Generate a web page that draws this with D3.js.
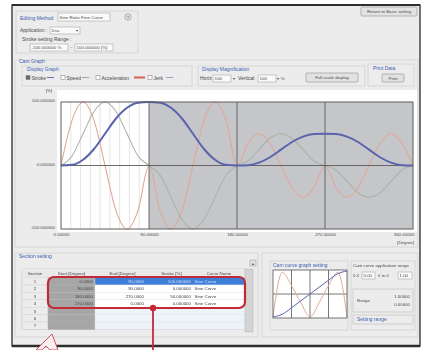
<!DOCTYPE html>
<html lang="en">
<head>
<meta charset="UTF-8">
<title>Cam curve editor</title>
<script src="https://d3js.org/d3.v7.min.js"></script>
<style>
  html, body { margin: 0; padding: 0; background: #fff; }
  svg { display: block; font-family: "Liberation Sans", Arial, sans-serif; filter: blur(0.3px); }
  .lbl { font-size: 5px; fill: #4a4a4a; }
  .sm { font-size: 4.4px; fill: #4a4a4a; }
  .grp { font-size: 5px; fill: #3a5cb0; }
</style>
</head>
<body>
<div id="chart"></div>
<script>
// cam cycle, sampled every 11.25 degrees
var degrees = [0, 11.25, 22.5, 33.75, 45, 56.25, 67.5, 78.75, 90,
  101.25, 112.5, 123.75, 135, 146.25, 157.5, 168.75, 180,
  191.25, 202.5, 213.75, 225, 236.25, 247.5, 258.75, 270,
  281.25, 292.5, 303.75, 315, 326.25, 337.5, 348.75, 360];
var stroke = [0, 1, 9, 26, 50, 74, 91, 99, 100,
  99, 91, 74, 50, 26, 9, 1, 0,
  0.5, 4.5, 13, 25, 37, 45.5, 49.5, 50,
  49.5, 45.5, 37, 25, 13, 4.5, 0.5, 0];
var speed = [0, 15, 50, 85, 100, 85, 50, 15, 0,
  -15, -50, -85, -100, -85, -50, -15, 0,
  7, 25, 43, 50, 43, 25, 7, 0,
  -7, -25, -43, -50, -43, -25, -7, 0];
var accel = [0, 71, 100, 71, 0, -71, -100, -71, 0,
  -71, -100, -71, 0, 71, 100, 71, 0,
  35, 50, 35, 0, -35, -50, -35, 0,
  -35, -50, -35, 0, 35, 50, 35, 0];

var xTicks = [0, 90, 180, 270, 360];
var xTickLabels = ["0.00000", "90.00000", "180.00000", "270.00000", "360.00000"];
var yTicks = [-100, 0, 100];
var yTickLabels = ["-100.000000", "0.000000", "100.000000"];
var fineGrid = [10, 20, 30, 40, 50, 60, 70, 80];
var editedRange = [0, 90];

// section table
var headers = ["Section", "Start [Degree]", "End [Degree]", "Stroke [%]", "Curve Name"];
var sectionNo = ["1", "2", "3", "4", "5", "6", "7"];
var startCol = ["0.0000", "90.0000", "180.0000", "270.0000", "", "", ""];
var endCol = ["90.0000", "90.0000", "270.0000", "0.0000", "", "", ""];
var strokeCol = ["100.000000", "0.000000", "50.000000", "0.000000", "", "", ""];
var curveCol = ["Sine Curve", "Sine Curve", "Sine Curve", "Sine Curve", "", "", ""];

// small cam curve preview
var miniX = [0, 0.125, 0.25, 0.375, 0.5, 0.625, 0.75, 0.875, 1];
var miniStroke = [0, 0.06, 0.2, 0.35, 0.5, 0.65, 0.8, 0.94, 1];
var miniAccel = [-0.95, 0.9, 0.35, -0.35, -0.95, -0.35, 0.35, 0.9, -0.95];
var miniGrid = [0.25, 0.5, 0.75];

var svg = d3.select("#chart").append("svg")
    .attr("width", 428)
    .attr("height", 350);

function box(x, y, w, h, col) {
    return svg.append("rect")
        .attr("x", x).attr("y", y).attr("width", w).attr("height", h)
        .attr("fill", "none")
        .attr("stroke", col || "#d2d2d2")
        .attr("stroke-width", 0.8);
}
function label(x, y, t, cls, anchor) {
    return svg.append("text")
        .attr("x", x).attr("y", y)
        .attr("class", cls || "lbl")
        .attr("text-anchor", anchor || "start")
        .text(t);
}
function button(x, y, w, h, t) {
    svg.append("rect")
        .attr("x", x).attr("y", y).attr("width", w).attr("height", h)
        .attr("rx", 1)
        .attr("fill", "#e2e2e2").attr("stroke", "#9c9c9c").attr("stroke-width", 0.7);
    label(x + w / 2, y + h / 2 + 1.6, t, "sm", "middle");
}
function field(x, y, w, h, t) {
    svg.append("rect")
        .attr("x", x).attr("y", y).attr("width", w).attr("height", h)
        .attr("fill", "#fafafa").attr("stroke", "#a8a8a8").attr("stroke-width", 0.6);
    label(x + 1.5, y + h / 2 + 1.6, t, "sm");
}

// window
svg.append("rect")
    .attr("x", 12).attr("y", 5).attr("width", 408).attr("height", 341)
    .attr("fill", "#ececec").attr("stroke", "#3a3a3a").attr("stroke-width", 1.4);
svg.append("line").attr("x1", 12).attr("x2", 420).attr("y1", 5).attr("y2", 5)
    .attr("stroke", "#2e2e2e").attr("stroke-width", 2.2);
svg.append("line").attr("x1", 12).attr("x2", 420).attr("y1", 346).attr("y2", 346)
    .attr("stroke", "#2e2e2e").attr("stroke-width", 2.5);

// editing method
box(16, 11, 122, 42);
label(20, 20, "Editing Method", "grp");
field(58, 13, 52, 8, "Sine Ratio Free Curve");
svg.append("circle").attr("cx", 128).attr("cy", 17).attr("r", 3.3)
    .attr("fill", "#dcdcdc").attr("stroke", "#999").attr("stroke-width", 0.6);
label(128, 18.7, "?", "sm", "middle");
label(20, 31.5, "Application :");
field(50, 27, 30, 7, "Disc");
label(77, 32.2, "\u25BE", "sm", "middle");
label(22, 40.5, "Stroke setting Range :");
field(30, 44, 38, 7, "-100.000000 %");
label(70, 49, "~", "sm");
field(75, 44, 38, 7, "100.000000 [%]");

button(361, 7, 56, 9, "Return to Basic setting");

// cam graph group
box(15, 60, 403, 187);
label(19, 63, "Cam Graph", "grp");

box(22, 66, 170, 20);
label(27, 70.5, "Display Graph", "grp");
var legendItems = [
    {x: 26, name: "Stroke", lx: 47, lw: 7, col: "#5760a8", on: true},
    {x: 61, name: "Speed", lx: 82, lw: 7, col: "#8fa08a", on: false},
    {x: 96, name: "Acceleration", lx: 134, lw: 11, col: "#d86a5a", on: false},
    {x: 148, name: "Jerk", lx: 166, lw: 7, col: "#a090b8", on: false}
];
legendItems.forEach(function (d) {
    svg.append("rect").attr("x", d.x).attr("y", 75.5).attr("width", 4).attr("height", 4)
        .attr("fill", d.on ? "#6a6a6a" : "#fff").attr("stroke", "#777").attr("stroke-width", 0.5);
    label(d.x + 5.5, 79.5, d.name);
    svg.append("line").attr("x1", d.lx).attr("x2", d.lx + d.lw).attr("y1", 77.5).attr("y2", 77.5)
        .attr("stroke", d.col).attr("stroke-width", d.lw > 10 ? 2.2 : 0.9);
});

box(198, 66, 167, 20);
label(202, 70.5, "Display Magnification", "grp");
label(200, 80, "Horiz.");
field(213, 75, 18, 7, "100");
label(234, 80, "\u25BE", "sm", "middle");
label(238, 80, "Vertical");
field(258, 75, 18, 7, "100");
label(281, 80, "\u25BE  %", "sm", "middle");
button(306, 73, 52, 9, "Full-scale display");

box(368, 64, 46, 22);
label(373, 69.5, "Print Data", "grp");
button(382, 74, 22, 8, "Print");

// main cam chart
var x = d3.scaleLinear().domain([0, 360]).range([61, 413]);
var y = d3.scaleLinear().domain([-100, 100]).range([229, 102]);

svg.append("rect").attr("x", 57).attr("y", 90).attr("width", 360).attr("height", 142)
    .attr("fill", "#fff");
svg.append("rect")
    .attr("x", x(editedRange[1])).attr("y", y(100))
    .attr("width", x(360) - x(editedRange[1])).attr("height", y(-100) - y(100))
    .attr("fill", "#c4c6c9");

svg.append("g").selectAll("line").data(fineGrid).enter().append("line")
    .attr("x1", function (d) { return x(d); })
    .attr("x2", function (d) { return x(d); })
    .attr("y1", y(100)).attr("y2", y(-100))
    .attr("stroke", "#d8d8d8").attr("stroke-width", 0.7);

var line = function (vals) {
    return d3.line()
        .x(function (d, i) { return x(degrees[i]); })
        .y(function (d) { return y(d); })
        .curve(d3.curveMonotoneX)(vals);
};
svg.append("path").attr("d", line(accel)).attr("fill", "none")
    .attr("stroke", "#e0a898").attr("stroke-width", 1.1);
svg.append("path").attr("d", line(speed)).attr("fill", "none")
    .attr("stroke", "#aab4a5").attr("stroke-width", 1.1);

svg.append("g").selectAll("line").data([90, 180, 270]).enter().append("line")
    .attr("x1", function (d) { return x(d); })
    .attr("x2", function (d) { return x(d); })
    .attr("y1", y(100)).attr("y2", y(-100))
    .attr("stroke", "#5a5a5a").attr("stroke-width", 0.9);
svg.append("line").attr("x1", x(0)).attr("x2", x(360)).attr("y1", y(0)).attr("y2", y(0))
    .attr("stroke", "#5a5a5a").attr("stroke-width", 0.9);

svg.append("path").attr("d", line(stroke)).attr("fill", "none")
    .attr("stroke", "#5b63ad").attr("stroke-width", 2);

svg.append("rect").attr("x", x(0)).attr("y", y(100))
    .attr("width", x(360) - x(0)).attr("height", y(-100) - y(100))
    .attr("fill", "none").attr("stroke", "#5c5c5c").attr("stroke-width", 1);

var xAxis = svg.append("g")
    .attr("transform", "translate(0," + 232 + ")")
    .call(d3.axisBottom(x).tickValues(xTicks).tickSize(0).tickPadding(0)
        .tickFormat(function (d, i) { return xTickLabels[i]; }));
xAxis.select(".domain").remove();
xAxis.selectAll("text").attr("class", "sm").attr("font-family", null).attr("font-size", null)
    .attr("dy", "0.95em")
    .filter(function (d) { return d === 360; }).attr("text-anchor", "end").attr("dx", 1);

var yAxis = svg.append("g")
    .attr("transform", "translate(" + 55 + ",0)")
    .call(d3.axisLeft(y).tickValues(yTicks).tickSize(0).tickPadding(0)
        .tickFormat(function (d, i) { return yTickLabels[i]; }));
yAxis.select(".domain").remove();
yAxis.selectAll("text").attr("class", "sm").attr("font-family", null).attr("font-size", null)
    .attr("dy", "-0.05em");
label(49, 92, "[%]", "sm", "middle");
label(414, 244, "[Degree]", "sm", "end");

// section setting
box(15, 253, 243, 84);
label(19, 258, "Section setting", "grp");

var cols = [22, 48, 95, 150, 193, 245];
var headTop = 269, rowH = 7.4, rowTop = 277.6;
svg.append("rect").attr("x", cols[0]).attr("y", headTop).attr("width", cols[5] - cols[0])
    .attr("height", rowTop + rowH * 7 - headTop).attr("fill", "#f6f8fb").attr("stroke", "#b8b8b8")
    .attr("stroke-width", 0.6);
svg.append("rect").attr("x", cols[0]).attr("y", headTop).attr("width", cols[5] - cols[0])
    .attr("height", rowTop - headTop).attr("fill", "#e9e9e9");
headers.forEach(function (h, i) {
    label((cols[i] + cols[i + 1]) / 2, headTop + 5.6, h, "sm", "middle");
});
sectionNo.forEach(function (n, i) {
    var ry = rowTop + i * rowH;
    svg.append("rect").attr("x", cols[0]).attr("y", ry).attr("width", cols[1] - cols[0])
        .attr("height", rowH).attr("fill", "#ececec").attr("stroke", "#cfcfcf").attr("stroke-width", 0.4);
    svg.append("rect").attr("x", cols[1]).attr("y", ry).attr("width", cols[2] - cols[1])
        .attr("height", rowH).attr("fill", "#a6a6a6").attr("stroke", "#b4b4b4").attr("stroke-width", 0.4);
    svg.append("rect").attr("x", cols[2]).attr("y", ry).attr("width", cols[5] - cols[2])
        .attr("height", rowH).attr("fill", i === 0 ? "#3d7fd8" : (i < 4 ? "#ffffff" : "#eef3fa"))
        .attr("stroke", "#dde3ea").attr("stroke-width", 0.4);
    label((cols[0] + cols[1]) / 2, ry + 5.4, n, "sm", "middle");
    var tcol = i === 0 ? "#cfe0f6" : "#404040";
    label(cols[2] - 2, ry + 5.4, startCol[i], "sm", "end");
    label(cols[3] - 6, ry + 5.4, endCol[i], "sm", "end").style("fill", tcol);
    label(cols[4] - 2, ry + 5.4, strokeCol[i], "sm", "end").style("fill", tcol);
    label(cols[4] + 1.5, ry + 5.4, curveCol[i], "sm").style("fill", tcol);
});
svg.append("rect").attr("x", 245).attr("y", 269).attr("width", 8).attr("height", 63)
    .attr("fill", "#d4d4d4").attr("stroke", "#b0b0b0").attr("stroke-width", 0.5);
svg.append("rect").attr("x", 250).attr("y", 260).attr("width", 6).attr("height", 6)
    .attr("fill", "#e0e0e0").attr("stroke", "#999").attr("stroke-width", 0.5);
label(253, 264.6, "\u25B4", "sm", "middle");

// cam curve graph setting
box(262, 253, 156, 84);
box(270, 261, 78, 69);
label(273, 266.5, "Cam curve graph setting", "grp");
var mx = d3.scaleLinear().domain([0, 1]).range([273, 347]);
var my = d3.scaleLinear().domain([-1, 1]).range([318, 270]);
var ms = d3.scaleLinear().domain([0, 1]).range([317, 271]);
svg.append("rect").attr("x", mx(0)).attr("y", my(1)).attr("width", mx(1) - mx(0))
    .attr("height", my(-1) - my(1)).attr("fill", "#fff");
svg.append("g").selectAll("line").data(miniGrid).enter().append("line")
    .attr("x1", function (d) { return mx(d); }).attr("x2", function (d) { return mx(d); })
    .attr("y1", my(1)).attr("y2", my(-1))
    .attr("stroke", "#555").attr("stroke-width", 0.8);
svg.append("line").attr("x1", mx(0)).attr("x2", mx(1)).attr("y1", my(0)).attr("y2", my(0))
    .attr("stroke", "#555").attr("stroke-width", 0.8);
svg.append("path")
    .attr("d", d3.line().x(function (d, i) { return mx(miniX[i]); }).y(function (d) { return my(d); })
        .curve(d3.curveMonotoneX)(miniAccel))
    .attr("fill", "none").attr("stroke", "#e0a898").attr("stroke-width", 1);
svg.append("path")
    .attr("d", d3.line().x(function (d, i) { return mx(miniX[i]); }).y(function (d) { return ms(d); })
        .curve(d3.curveMonotoneX)(miniStroke))
    .attr("fill", "none").attr("stroke", "#5b63ad").attr("stroke-width", 1);
svg.append("rect").attr("x", mx(0)).attr("y", my(1)).attr("width", mx(1) - mx(0))
    .attr("height", my(-1) - my(1)).attr("fill", "none").attr("stroke", "#555").attr("stroke-width", 0.8);

box(351, 261, 64, 69);
label(353, 267, "Cam curve application range", "sm");
label(353, 276.5, "0 \u2264", "sm");
field(362, 272, 13, 7, "0.00");
label(378, 276.5, "\u2264 m \u2264", "sm");
field(398, 272, 14, 7, "1.00");
box(353, 289, 60, 23, "#c8c8c8");
label(357, 302, "Range", "sm");
label(410, 298, "1.00000", "sm", "end");
label(410, 306, "0.00000", "sm", "end");
box(353, 315, 60, 9, "#c8c8c8");
label(357, 321, "Setting range", "grp");

// annotation marks
svg.append("rect").attr("x", 48).attr("y", 277).attr("width", 197).attr("height", 31)
    .attr("rx", 6).attr("fill", "none").attr("stroke", "#c42a36").attr("stroke-width", 2.2);
svg.append("line").attr("x1", 153).attr("x2", 153).attr("y1", 308).attr("y2", 350)
    .attr("stroke", "#c42a36").attr("stroke-width", 1.8);
svg.append("circle").attr("cx", 153).attr("cy", 308).attr("r", 3.2).attr("fill", "#c42a36");
svg.append("path").attr("d", "M52,334 L36,350 L42,350 L46,346 L50,350 L58,350 Z")
    .attr("fill", "#fbeef0").attr("stroke", "#d0505e").attr("stroke-width", 1);
</script>
</body>
</html>
